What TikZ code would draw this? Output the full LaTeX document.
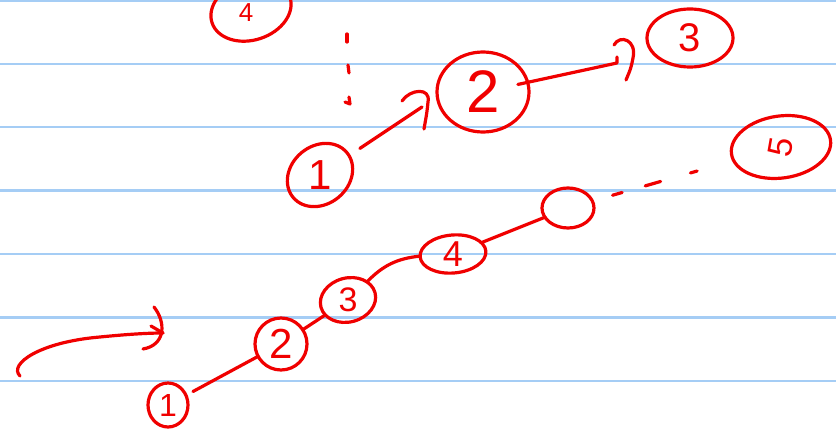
\documentclass[tikz,border=0pt]{standalone}
\usepackage{fontspec}
\setmainfont{Liberation Sans}
\usetikzlibrary{shapes.geometric}
\definecolor{rule}{RGB}{165,205,245}
\definecolor{ink}{RGB}{240,0,0}
\tikzset{
  ruleline/.style={draw=rule, line width=2.2pt},
  stroke/.style={draw=ink, line width=3.2pt, line cap=round, line join=round},
  blob/.style={shape=ellipse, draw=ink, line width=3.2pt, inner sep=0pt, outer sep=0pt},
  num/.style={text=ink, inner sep=0pt},
}
\begin{document}
\begin{tikzpicture}[x=1pt, y=-1pt]
\useasboundingbox[fill=white] (0,0) rectangle (836,433);
% ruled paper
\foreach \yy in {1,64,127,190.5,254,317.5,381}
  \draw[ruleline] (0,\yy) -- (836,\yy);

% top-left partially visible circle
\node[blob, minimum width=82pt, minimum height=60pt, rotate=18] (t4) at (251,10) {};
\node[num, font=\fontsize{26}{26}\selectfont] (t4n) at (246,13) {4};

% dotted vertical marks
\coordinate (d1) at (347,34);
\coordinate (d2) at (348,65);
\coordinate (d3) at (349,97);
\draw[stroke] (d1) -- ++(0,8);
\draw[stroke] (d2) -- ++(1,8);
\draw[stroke] (d3) -- ++(1,7) -- ++(-5,-2);

% upper chain
\node[blob, minimum width=70pt, minimum height=58pt, rotate=40,
      label={[num, font=\fontsize{42}{42}\selectfont]center:1}] (u1) at (320,175) {};
\node[blob, minimum width=92pt, minimum height=80pt,
      label={[num, font=\fontsize{60}{60}\selectfont]center:2}] (u2) at (483,92) {};
\node[blob, minimum width=86pt, minimum height=58pt,
      label={[num, font=\fontsize{40}{40}\selectfont]center:3}] (u3) at (690,38) {};
\node[blob, minimum width=100pt, minimum height=62pt, rotate=8,
      label={[num, font=\fontsize{34}{34}\selectfont, rotate=80]center:5}] (t5) at (781,147) {};

\coordinate (h1) at (422,107);
\coordinate (h2) at (617,63);
\draw[stroke, shorten <=13pt] (u1) -- (h1);
\draw[stroke] (402,101) .. controls (410,89) and (431,87) .. (428,102) .. controls (427,112) .. (424,129);
\draw[stroke, shorten <=-10pt] (u2) -- (h2) -- ++(0,-6);
\draw[stroke] (614,45) .. controls (620,34) and (637,40) .. (633,58) .. controls (631,68) .. (626,80);

% lower chain
\node[blob, minimum width=40pt, minimum height=44pt,
      label={[num, font=\fontsize{32}{32}\selectfont]center:1}] (b1) at (168,405) {};
\node[blob, minimum width=52pt, minimum height=52pt,
      label={[num, font=\fontsize{42}{42}\selectfont]center:2}] (b2) at (281,344) {};
\node[blob, minimum width=56pt, minimum height=44pt, rotate=15,
      label={[num, font=\fontsize{34}{34}\selectfont]center:3}] (b3) at (348,300) {};
\node[blob, minimum width=66pt, minimum height=38pt, rotate=5,
      label={[num, font=\fontsize{36}{36}\selectfont]center:4}] (b4) at (453,254) {};
\node[blob, minimum width=52pt, minimum height=40pt] (b5) at (568,208) {};

\draw[stroke, shorten <=8pt] (b1) -- (b2);
\draw[stroke] (b2) -- (b3);
\draw[stroke] (b3) to[bend left=20] (b4);
\draw[stroke] (b4) -- (b5);
\draw[stroke, dash pattern=on 10pt off 24pt on 16pt off 31pt on 8pt off 100pt,
      shorten <=21pt, shorten >=38pt] (b5) -- (t5);

% left curved arrow
\coordinate (L0) at (20,376);
\coordinate (L1) at (163,333);
\draw[stroke] (L0) .. controls (8,364) and (40,342) .. (100,337) .. controls (130,334) and (150,333) .. (L1);
\draw[stroke] (154,307) .. controls (166,322) and (166,345) .. (143,349);
\draw[stroke] (151,326) -- (L1);
\end{tikzpicture}
\end{document}
